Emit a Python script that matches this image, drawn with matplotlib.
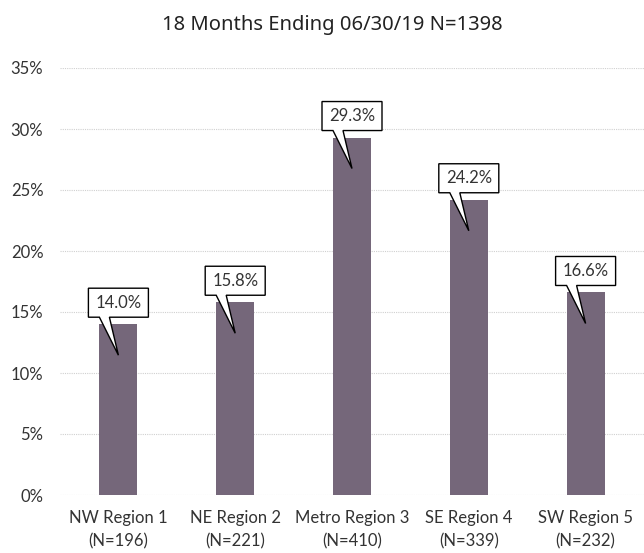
import matplotlib
matplotlib.use("Agg")
import matplotlib.pyplot as plt
from matplotlib.patches import Polygon
from matplotlib.transforms import Affine2D, ScaledTranslation
from matplotlib.ticker import FuncFormatter, MultipleLocator

categories = ["NW Region 1", "NE Region 2", "Metro Region 3", "SE Region 4", "SW Region 5"]
counts = ["(N=196)", "(N=221)", "(N=410)", "(N=339)", "(N=232)"]
values = [14.0, 15.8, 29.3, 24.2, 16.6]
title = "18 Months Ending 06/30/19 N=1398"

bar_color = "#75677a"
label_font = ["Lato", "DejaVu Sans"]

fig = plt.figure(figsize=(6.44, 5.53), dpi=100)
ax = fig.add_axes([60 / 644, 58 / 553, 584 / 644, 427 / 553])

x = list(range(len(categories)))
ax.bar(x, values, width=0.325, color=bar_color, zorder=2)
ax.set_xlim(-0.5, len(categories) - 0.5)
ax.set_ylim(0, 35)
ax.yaxis.set_major_locator(MultipleLocator(5))
ax.yaxis.set_major_formatter(FuncFormatter(lambda v, p: f"{v:.0f}%"))
ax.grid(axis="y", color="#d0d0d0", linestyle=(0, (1, 1)), linewidth=0.8, zorder=0)
for s in ax.spines.values():
    s.set_visible(False)
ax.tick_params(axis="both", length=0, labelsize=12, colors="#404040")
ax.tick_params(axis="y", pad=12)
ax.tick_params(axis="x", pad=11)
ax.set_xticks(x)
ax.set_xticklabels([f"{c}\n{n}" for c, n in zip(categories, counts)], linespacing=1.5)
for lbl in ax.get_xticklabels() + ax.get_yticklabels():
    lbl.set_family(label_font)
    lbl.set_color("#333333")

# callouts
box = [(-30, 7), (-19, 7), (0, -31), (-9, 7), (30, 7), (30, 36), (-30, 36)]
for xi, v in zip(x, values):
    tr = Affine2D().scale(fig.dpi / 100) + ScaledTranslation(xi, v, ax.transData)
    poly = Polygon(box, closed=True, facecolor="white", edgecolor="black",
                   linewidth=1.0, transform=tr, clip_on=False, zorder=5)
    ax.add_patch(poly)
    ax.text(0, 21.5, f"{v:.1f}%", transform=tr, ha="center", va="center",
            fontsize=12, family=label_font, color="#333333", zorder=6)

fig.text(332 / 644, 1 - 25 / 553, title, ha="center", va="center", fontsize=14.5,
         family=["Noto Sans", "DejaVu Sans"], color="#222222")

fig.savefig("out.png", dpi=100)
